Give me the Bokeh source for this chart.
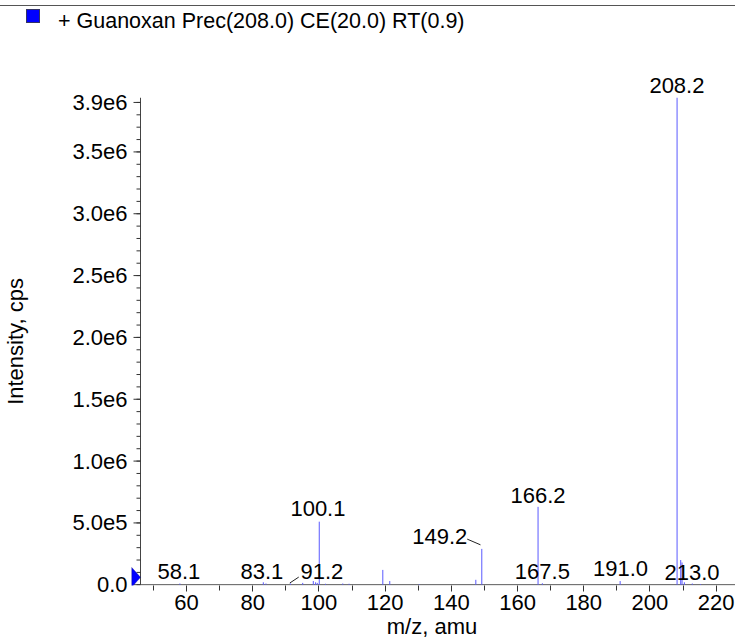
from bokeh.plotting import figure
from bokeh.models import ColumnDataSource, LabelSet, FixedTicker, Div, PolyAnnotation, Range1d, Title
from bokeh.layouts import column
from bokeh.core.properties import value
from bokeh.embed import file_html
from bokeh.resources import INLINE

FONT = "Liberation Sans"

title_text = "+ Guanoxan Prec(208.0) CE(20.0) RT(0.9)"

# spectrum peaks (m/z, intensity in cps)
mz = [58.0, 83.2, 84.0, 91.4, 95.1, 98.3, 99.0, 99.5, 100.1, 102.0, 107.2, 109.1,
      119.3, 121.4, 130.3, 147.4, 149.2, 166.2, 167.5, 191.0, 208.2, 209.3, 209.7,
      210.4, 212.8, 215.3]
intensity = [0.010e6, 0.020e6, 0.010e6, 0.010e6, 0.015e6, 0.030e6, 0.020e6, 0.015e6,
             0.510e6, 0.008e6, 0.010e6, 0.008e6, 0.120e6, 0.030e6, 0.005e6, 0.040e6,
             0.290e6, 0.630e6, 0.012e6, 0.030e6, 3.940e6, 0.200e6, 0.180e6, 0.020e6,
             0.010e6, 0.006e6]

# peak annotations inside the plot area
label_text = ["58.1", "83.1", "91.2", "100.1", "149.2", "166.2", "167.5", "191.0", "213.0"]
label_x = [57.7, 82.75, 100.9, 99.7, 136.5, 166.2, 167.5, 191.1, 212.7]
label_y = [0.046e6, 0.048e6, 0.048e6, 0.556e6, 0.330e6, 0.659e6, 0.046e6, 0.073e6, 0.040e6]
# annotation of the base peak, sitting just above the top of the plot area
top_label_text = "208.2"
top_label_x = 208.3

leader_x0 = [91.2, 144.8]
leader_y0 = [0.014e6, 0.369e6]
leader_x1 = [93.9, 148.8]
leader_y1 = [0.062e6, 0.323e6]

# axes
X_AXIS_START = 46.1
X_VIEW = (42.47, 225.85)
Y_MAX = 3.94e6
Y_VIEW = (-0.006e6, Y_MAX)
PX_PER_X = 3.31          # screen px per m/z unit
x_ticks = [60, 80, 100, 120, 140, 160, 180, 200, 220]
x_minor = [50, 70, 90, 110, 130, 150, 170, 190, 210]
y_ticks = [0, 500000, 1000000, 1500000, 2000000, 2500000, 3000000, 3500000, 3900000]
y_tick_labels = ["0.0", "5.0e5", "1.0e6", "1.5e6", "2.0e6", "2.5e6", "3.0e6", "3.5e6", "3.9e6"]
y_minor = [k * 100000 for k in range(0, 40)]
x_label = "m/z, amu"
y_label = "Intensity, cps"

peaks = ColumnDataSource(dict(mz=mz, top=intensity, base=[0.0] * len(mz)))
labels = ColumnDataSource(dict(x=label_x, y=label_y, text=label_text))
leaders = ColumnDataSource(dict(x0=leader_x0, y0=leader_y0, x1=leader_x1, y1=leader_y1))
axis_lines = ColumnDataSource(dict(x0=[X_AXIS_START, X_AXIS_START], y0=[0.0, 0.0],
                                   x1=[X_AXIS_START, X_VIEW[1]], y1=[Y_MAX, 0.0]))
major_len = 7 / PX_PER_X
minor_len = 4 / PX_PER_X
y_major_marks = ColumnDataSource(dict(x0=[X_AXIS_START - major_len] * len(y_ticks),
                                      x1=[X_AXIS_START] * len(y_ticks), y=y_ticks))
y_minor_marks = ColumnDataSource(dict(x0=[X_AXIS_START - minor_len] * len(y_minor),
                                      x1=[X_AXIS_START] * len(y_minor), y=y_minor))

p = figure(width=735, height=602, x_range=Range1d(*X_VIEW), y_range=Range1d(*Y_VIEW),
           output_backend="svg", toolbar_location=None,
           min_border_left=128, min_border_right=0, min_border_top=57, min_border_bottom=57)
p.outline_line_color = None
p.xgrid.visible = False
p.ygrid.visible = False
p.background_fill_color = "white"
p.border_fill_color = "white"

p.segment(x0="x0", y0="y0", x1="x1", y1="y1", source=axis_lines, line_color="#444444", line_width=1)
p.segment(x0="x0", y0="y", x1="x1", y1="y", source=y_major_marks, line_color="#333333", line_width=1)
p.segment(x0="x0", y0="y", x1="x1", y1="y", source=y_minor_marks, line_color="#333333", line_width=1)
p.segment(x0="mz", y0="base", x1="mz", y1="top", source=peaks, line_color="#5a5aff", line_width=1)
p.segment(x0="x0", y0="y0", x1="x1", y1="y1", source=leaders, line_color="#222222", line_width=1)

p.add_layout(LabelSet(x="x", y="y", text="text", source=labels, text_align="center",
                      text_baseline="alphabetic", text_font=value(FONT), text_font_size="22px",
                      text_color="black"))

# base-peak label placed in the strip above the plot area, centred on its m/z
top_label_width = 56
p.add_layout(Title(text=top_label_text, align="left",
                   offset=(top_label_x - X_VIEW[0]) * PX_PER_X - top_label_width / 2,
                   vertical_align="bottom", standoff=10,
                   text_font=FONT, text_font_size="22px", text_font_style="normal",
                   text_color="black"), "above")

p.add_layout(PolyAnnotation(xs=[43.45, X_AXIS_START, 43.45], ys=[0.14e6, 0.06e6, -0.02e6],
                            fill_color="#0000ff", fill_alpha=1.0, line_color="#000066",
                            line_width=1))

for ax in (p.xaxis[0], p.yaxis[0]):
    ax.axis_line_color = None
    ax.major_tick_line_color = "#333333"
    ax.minor_tick_line_color = "#333333"
    ax.major_label_text_font = FONT
    ax.major_label_text_font_size = "22px"
    ax.major_label_text_color = "black"
    ax.axis_label_text_font = FONT
    ax.axis_label_text_font_style = "normal"
    ax.axis_label_text_font_size = "22px"
    ax.axis_label_text_color = "black"
    ax.major_tick_in = 0
    ax.minor_tick_in = 0

p.xaxis.ticker = FixedTicker(ticks=x_ticks, minor_ticks=x_minor)
p.xaxis.major_tick_out = 6
p.xaxis.minor_tick_out = 5
p.xaxis.major_label_standoff = 3
p.xaxis.axis_label = x_label
p.xaxis.axis_label_standoff = 1

p.yaxis.ticker = FixedTicker(ticks=y_ticks, minor_ticks=y_minor)
p.yaxis.major_label_overrides = {t: s for t, s in zip(y_ticks, y_tick_labels)}
p.yaxis.major_tick_out = 0
p.yaxis.minor_tick_out = 0
p.yaxis.major_tick_line_color = None
p.yaxis.minor_tick_line_color = None
p.yaxis.major_label_standoff = 1
p.yaxis.axis_label = y_label
p.yaxis.axis_label_standoff = 41

header = Div(
    text=(
        '<div style="position:relative;width:735px;height:40px;'
        "font-family:'Liberation Sans',Arial,sans-serif;font-size:21.5px;line-height:21.5px;color:black;\">"
        '<div style="position:absolute;left:0px;top:5px;width:735px;height:0px;border-top:1px solid #555555;"></div>'
        '<div style="position:absolute;left:26px;top:9px;width:14px;height:14px;'
        'background:#0000ff;border:1px solid #333366;"></div>'
        '<div style="position:absolute;left:58px;top:11px;white-space:nowrap;">'
        + title_text + "</div></div>"
    ),
    width=735, height=40, margin=(0, 0, 0, 0),
)

layout = column(header, p, spacing=0)
open("out.html", "w").write(file_html(layout, INLINE))
